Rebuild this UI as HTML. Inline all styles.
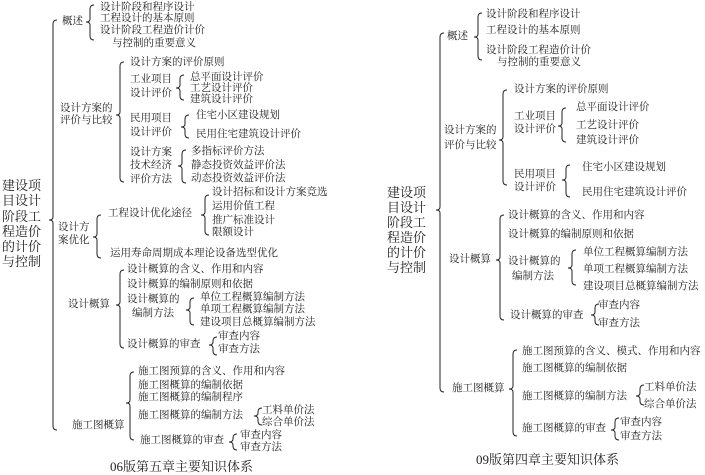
<!DOCTYPE html>
<html><head><meta charset="utf-8"><style>
body{margin:0;width:705px;height:475px;background:#fff;position:relative;overflow:hidden;font-family:"Liberation Serif","Noto Serif CJK SC",serif;color:#222}
.t{position:absolute;font-size:10.5px;line-height:12px;white-space:nowrap}
.r{position:absolute;font-size:13px;line-height:15px;white-space:nowrap}
svg{position:absolute;left:0;top:0}
path{fill:none;stroke:#222;stroke-width:1}
</style></head><body>
<svg width="705" height="475" id="s"></svg>
<div id="c"></div>
<script>
var B=[[53,20,430,220],[90,5,40,22],[120,62,182,115],[180,75,100,88],[185,115,138,127],[182,150,183,166],[97,215,258,237],[205,195,235,215],[120,270,348,305],[190,298,325,310],[213,337,355,345],[130,372,440,403],[258,408,425,416],[233,434,450,442],
[440,33,392,210],[478,13,60,37],[503,90,185,140],[562,108,142,126],[566,165,197,180],[500,215,320,260],[572,250,285,268],[595,304,325,315],[513,350,436,389],[640,385,405,396],[615,418,440,430]];
var h='';B.forEach(function(b){var x=b[0],a=b[1],e=b[2],m=b[3];
h+='<path d="M'+(x+4)+','+a+' Q'+x+','+a+' '+x+','+(a+4)+' L'+x+','+(m-3)+' Q'+x+','+m+' '+(x-4)+','+m+' Q'+x+','+m+' '+x+','+(m+3)+' L'+x+','+(e-4)+' Q'+x+','+e+' '+(x+4)+','+e+'"/>';});
document.getElementById('s').innerHTML=h;
var T=[[62,22,'概述'],[100,8,'设计阶段和程序设计'],[100,19,'工程设计的基本原则'],[100,31,'设计阶段工程造价计价'],[112,44,'与控制的重要意义'],
[60,109,'设计方案的'],[60,121,'评价与比较'],[130,63,'设计方案的评价原则'],[130,80,'工业项目'],[130,94,'设计评价'],[190,78,'总平面设计评价'],[190,89,'工艺设计评价'],[190,100,'建筑设计评价'],
[130,119,'民用项目'],[130,133,'设计评价'],[196,116,'住宅小区建设规划'],[196,135,'民用住宅建筑设计评价'],
[130,153,'设计方案'],[130,166,'技术经济'],[130,180,'评价方法'],[191,152,'多指标评价方法'],[191,166,'静态投资效益评价法'],[191,179,'动态投资效益评价法'],
[58,228,'设计方'],[58,241,'案优化'],[108,214,'工程设计优化途径'],[212,193,'设计招标和设计方案竞选'],[212,207,'运用价值工程'],[212,221,'推广标准设计'],[212,233,'限额设计'],[110,254,'运用寿命周期成本理论设备选型优化'],
[68,305,'设计概算'],[127,270,'设计概算的含义、作用和内容'],[127,285,'设计概算的编制原则和依据'],[127,300,'设计概算的'],[132,314,'编制方法'],[200,298,'单位工程概算编制方法'],[200,310,'单项工程概算编制方法'],[200,323,'建设项目总概算编制方法'],
[127,345,'设计概算的审查'],[218,337,'审查内容'],[218,350,'审查方法'],
[72,426,'施工图概算'],[138,372,'施工图预算的含义、作用和内容'],[138,386,'施工图概算的编制依据'],[138,398,'施工图概算的编制程序'],[138,416,'施工图概算的编制方法'],[262,411,'工料单价法'],[262,423,'综合单价法'],
[140,441,'施工图概算的审查'],[240,436,'审查内容'],[240,448,'审查方法'],
[447,37,'概述'],[486,15,'设计阶段和程序设计'],[486,31,'工程设计的基本原则'],[486,51,'设计阶段工程造价计价'],[497,63,'与控制的重要意义'],
[444,131,'设计方案的'],[444,146,'评价与比较'],[514,90,'设计方案的评价原则'],[514,117,'工业项目'],[514,130,'设计评价'],[576,108,'总平面设计评价'],[576,126,'工艺设计评价'],[576,141,'建筑设计评价'],
[514,175,'民用项目'],[514,188,'设计评价'],[582,168,'住宅小区建设规划'],[582,193,'民用住宅建筑设计评价'],
[449,260,'设计概算'],[508,216,'设计概算的含义、作用和内容'],[508,235,'设计概算的编制原则和依据'],[508,262,'设计概算的'],[512,277,'编制方法'],[583,253,'单位工程概算编制方法'],[583,270,'单项工程概算编制方法'],[583,287,'建设项目总概算编制方法'],
[510,316,'设计概算的审查'],[598,306,'审查内容'],[598,324,'审查方法'],
[452,389,'施工图概算'],[522,352,'施工图预算的含义、模式、作用和内容'],[522,369,'施工图概算的编制依据'],[522,397,'施工图概算的编制方法'],[644,388,'工料单价法'],[644,405,'综合单价法'],
[522,429,'施工图概算的审查'],[620,423,'审查内容'],[620,437,'审查方法']];
var o='';T.forEach(function(t){o+='<div class="t" style="left:'+t[0]+'px;top:'+(t[1]-6)+'px">'+t[2]+'</div>';});
var R=[['建设项',185],['目设计',200],['阶段工',216],['程造价',231],['的计价',246],['与控制',261]];
R.forEach(function(r){o+='<div class="r" style="left:2px;top:'+(r[1]-7)+'px">'+r[0]+'</div>';});
var R2=[['建设项',192],['目设计',207],['阶段工',222],['程造价',237],['的计价',252],['与控制',267]];
R2.forEach(function(r){o+='<div class="r" style="left:387px;top:'+(r[1]-7)+'px">'+r[0]+'</div>';});
o+='<div class="r" style="left:110px;top:459px">06版第五章主要知识体系</div>';
o+='<div class="r" style="left:476px;top:452px">09版第四章主要知识体系</div>';
document.getElementById('c').innerHTML=o;
</script>
</body></html>
